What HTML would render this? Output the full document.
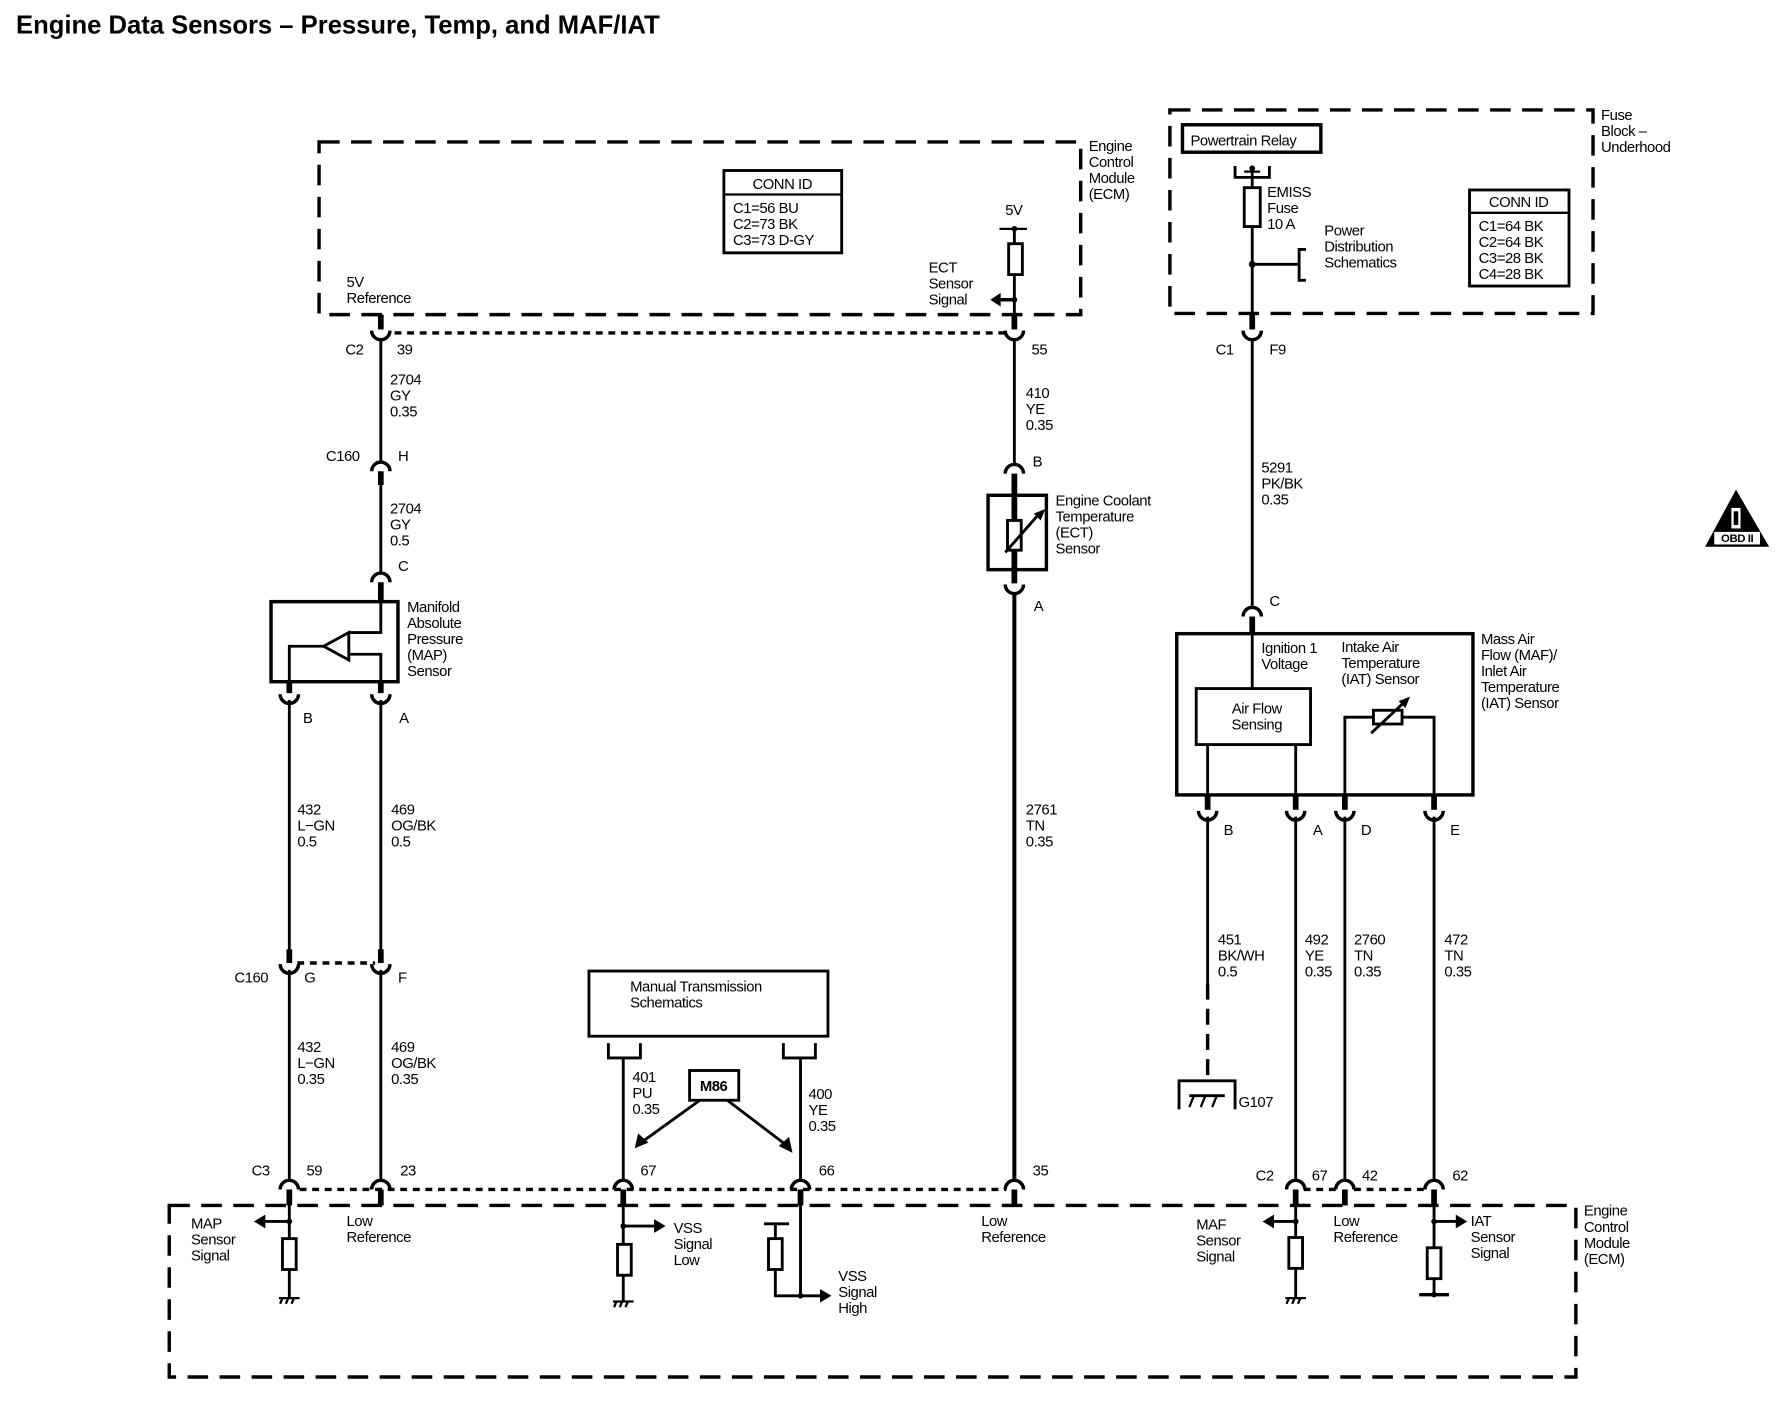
<!DOCTYPE html>
<html><head><meta charset="utf-8"><style>
html,body{margin:0;padding:0;background:#fff}
svg{display:block}
text{font-family:"Liberation Sans",sans-serif;font-size:13px;fill:#000;letter-spacing:-0.4px}
.t{font-size:22.4px;font-weight:bold;letter-spacing:0px}
.b{font-weight:bold}
</style></head><body>
<svg width="1784" height="1408" viewBox="0 0 1560 1231" xmlns="http://www.w3.org/2000/svg">
<text class="t" x="14" y="29">Engine Data Sensors – Pressure, Temp, and MAF/IAT</text>

<g fill="none" stroke="#000">
<g stroke-width="3" stroke-dasharray="18,10">
<rect x="279" y="124" width="666" height="151"/>
<rect x="1023" y="96" width="370" height="178"/>
<rect x="148" y="1054" width="1230" height="150"/>
</g>
<g stroke-width="3" stroke-dasharray="6,5">
<line x1="345" y1="291" x2="880" y2="291"/>
<line x1="260" y1="842" x2="328" y2="842"/>
<line x1="262" y1="1040" x2="880" y2="1040"/>
<line x1="1140" y1="1040" x2="1170" y2="1040"/>
<line x1="1184" y1="1040" x2="1248" y2="1040"/>
</g>

<rect x="633" y="149" width="103" height="72" stroke-width="2.5"/>
<line x1="633" y1="170" x2="736" y2="170" stroke-width="2"/>
<rect x="1285" y="166" width="87" height="84" stroke-width="2.5"/>
<line x1="1285" y1="186" x2="1372" y2="186" stroke-width="2"/>

<g stroke-width="2.5">
<line x1="333" y1="296" x2="333" y2="405"/>
<line x1="333" y1="424" x2="333" y2="500"/>
<line x1="253" y1="612" x2="253" y2="832"/>
<line x1="333" y1="612" x2="333" y2="832"/>
<line x1="253" y1="848" x2="253" y2="1032"/>
<line x1="333" y1="848" x2="333" y2="1032"/>
<line x1="887" y1="296" x2="887" y2="405"/>
<line x1="545" y1="925" x2="545" y2="1032"/>
<line x1="700" y1="925" x2="700" y2="1032"/>
<line x1="1095" y1="296" x2="1095" y2="530"/>
<line x1="1056" y1="714" x2="1056" y2="860"/>
<line x1="1133" y1="714" x2="1133" y2="1032"/>
<line x1="1176" y1="714" x2="1176" y2="1032"/>
<line x1="1254" y1="714" x2="1254" y2="1032"/>
</g>
<line x1="887" y1="518" x2="887" y2="1032" stroke-width="3.5"/>
<line x1="1056" y1="860" x2="1056" y2="945" stroke-width="3" stroke-dasharray="14,8"/>

<g stroke-width="5">
<line x1="333" y1="275" x2="333" y2="288"/>
<line x1="887" y1="275" x2="887" y2="288"/>
<line x1="1095" y1="274" x2="1095" y2="288"/>
<line x1="333" y1="412" x2="333" y2="424"/>
<line x1="333" y1="509" x2="333" y2="526"/>
<line x1="253" y1="596" x2="253" y2="606"/>
<line x1="333" y1="596" x2="333" y2="606"/>
<line x1="253" y1="830" x2="253" y2="842"/>
<line x1="333" y1="830" x2="333" y2="842"/>
<line x1="887" y1="414" x2="887" y2="510"/>
<line x1="1095" y1="539" x2="1095" y2="554"/>
<line x1="1056" y1="696" x2="1056" y2="708"/>
<line x1="1133" y1="696" x2="1133" y2="708"/>
<line x1="1176" y1="696" x2="1176" y2="708"/>
<line x1="1254" y1="696" x2="1254" y2="708"/>
<line x1="253" y1="1040" x2="253" y2="1054"/>
<line x1="333" y1="1040" x2="333" y2="1054"/>
<line x1="545" y1="1040" x2="545" y2="1054"/>
<line x1="700" y1="1040" x2="700" y2="1054"/>
<line x1="887" y1="1040" x2="887" y2="1054"/>
<line x1="1133" y1="1040" x2="1133" y2="1054"/>
<line x1="1176" y1="1040" x2="1176" y2="1054"/>
<line x1="1254" y1="1040" x2="1254" y2="1054"/>
</g>

<g stroke-width="3">
<path d="M325,289 A8,8 0 0 0 341,289"/>
<path d="M879,289 A8,8 0 0 0 895,289"/>
<path d="M1087,289 A8,8 0 0 0 1103,289"/>
<path d="M245,607 A8,8 0 0 0 261,607"/>
<path d="M325,607 A8,8 0 0 0 341,607"/>
<path d="M245,843 A8,8 0 0 0 261,843"/>
<path d="M325,843 A8,8 0 0 0 341,843"/>
<path d="M879,511 A8,8 0 0 0 895,511"/>
<path d="M1048,709 A8,8 0 0 0 1064,709"/>
<path d="M1125,709 A8,8 0 0 0 1141,709"/>
<path d="M1168,709 A8,8 0 0 0 1184,709"/>
<path d="M1246,709 A8,8 0 0 0 1262,709"/>
<path d="M325,412 A8,8 0 0 1 341,412"/>
<path d="M325,509 A8,8 0 0 1 341,509"/>
<path d="M879,414 A8,8 0 0 1 895,414"/>
<path d="M1087,539 A8,8 0 0 1 1103,539"/>
<path d="M245,1040 A8,8 0 0 1 261,1040"/>
<path d="M325,1040 A8,8 0 0 1 341,1040"/>
<path d="M537,1040 A8,8 0 0 1 553,1040"/>
<path d="M692,1040 A8,8 0 0 1 708,1040"/>
<path d="M879,1040 A8,8 0 0 1 895,1040"/>
<path d="M1125,1040 A8,8 0 0 1 1141,1040"/>
<path d="M1168,1040 A8,8 0 0 1 1184,1040"/>
<path d="M1246,1040 A8,8 0 0 1 1262,1040"/>
</g>

<rect x="237" y="526" width="111" height="70" stroke-width="3"/>
<polyline points="333,526 333,553 305,553" stroke-width="2.5"/>
<polygon points="283,565 305,553 305,577" stroke-width="2.5"/>
<polyline points="283,565 253,565 253,596" stroke-width="2.5"/>
<polyline points="305,572 333,572 333,596" stroke-width="2.5"/>

<line x1="874" y1="200" x2="898" y2="200" stroke-width="2"/>
<line x1="887" y1="200" x2="887" y2="275" stroke-width="2.5"/>
<rect x="882" y="213" width="12" height="27" fill="#fff" stroke-width="2.5"/>
<line x1="887" y1="262" x2="872" y2="262" stroke-width="3"/>
<rect x="864" y="433" width="51" height="65" stroke-width="3"/>
<rect x="881" y="455" width="12" height="26" fill="#fff" stroke-width="2.5"/>
<line x1="879" y1="483" x2="908" y2="450" stroke-width="2.5"/>

<rect x="1034" y="109" width="121" height="24" stroke-width="3"/>
<polyline points="1080,145 1080,155 1110,155 1110,145" stroke-width="2.5"/>
<line x1="1088" y1="150" x2="1102" y2="150" stroke-width="2"/>
<line x1="1095" y1="147" x2="1095" y2="164" stroke-width="2.5"/>
<rect x="1088" y="164" width="14" height="34" stroke-width="2.5"/>
<line x1="1095" y1="198" x2="1095" y2="274" stroke-width="2.5"/>
<line x1="1095" y1="231" x2="1136" y2="231" stroke-width="2.5"/>
<polyline points="1142,218 1136,218 1136,245 1142,245" stroke-width="2.5"/>

<rect x="1029" y="554" width="259" height="141" stroke-width="3"/>
<line x1="1095" y1="554" x2="1095" y2="602" stroke-width="2.5"/>
<rect x="1046" y="602" width="100" height="49" stroke-width="2.5"/>
<line x1="1056" y1="651" x2="1056" y2="696" stroke-width="2.5"/>
<line x1="1133" y1="651" x2="1133" y2="696" stroke-width="2.5"/>
<polyline points="1176,696 1176,627 1254,627 1254,696" stroke-width="2.5"/>
<rect x="1201" y="621" width="25" height="12" fill="#fff" stroke-width="2.5"/>
<line x1="1199" y1="641" x2="1230" y2="612" stroke-width="2.5"/>

<polyline points="1031,970 1031,945 1080,945 1080,970" stroke-width="2.5"/>
<line x1="1040" y1="958" x2="1071" y2="958" stroke-width="2.5"/>
<line x1="1044" y1="958" x2="1040" y2="968" stroke-width="2"/>
<line x1="1054" y1="958" x2="1050" y2="968" stroke-width="2"/>
<line x1="1064" y1="958" x2="1060" y2="968" stroke-width="2"/>

<rect x="515" y="849" width="209" height="57" stroke-width="2.5"/>
<polyline points="532,912 532,925 560,925 560,912" stroke-width="2.5"/>
<polyline points="685,912 685,925 713,925 713,912" stroke-width="2.5"/>
<rect x="603" y="936" width="43" height="26" stroke-width="2.5"/>
<line x1="612" y1="962" x2="562" y2="998" stroke-width="2.5"/>
<line x1="636" y1="962" x2="686" y2="1000" stroke-width="2.5"/>

<g stroke-width="2.5">
<line x1="253" y1="1054" x2="253" y2="1135"/>
<line x1="253" y1="1068" x2="230" y2="1068"/>
<line x1="545" y1="1054" x2="545" y2="1138"/>
<line x1="545" y1="1072" x2="572" y2="1072"/>
<line x1="700" y1="1054" x2="700" y2="1133"/>
<polyline points="678,1070 678,1133 718,1133"/>
<line x1="668" y1="1070" x2="690" y2="1070"/>
<line x1="1133" y1="1054" x2="1133" y2="1135"/>
<line x1="1133" y1="1068" x2="1112" y2="1068"/>
<line x1="1254" y1="1054" x2="1254" y2="1132"/>
<line x1="1254" y1="1068" x2="1274" y2="1068"/>
<line x1="1241" y1="1132" x2="1267" y2="1132" stroke-width="3"/>
</g>
<g fill="#fff" stroke-width="2.5">
<rect x="247" y="1083" width="12" height="27"/>
<rect x="540" y="1088" width="12" height="27"/>
<rect x="672" y="1083" width="12" height="27"/>
<rect x="1127" y="1082" width="12" height="27"/>
<rect x="1248" y="1091" width="12" height="27"/>
</g>
<g stroke-width="2">
<line x1="244" y1="1135" x2="262" y2="1135"/><line x1="247" y1="1135" x2="245" y2="1140"/><line x1="252" y1="1135" x2="250" y2="1140"/><line x1="257" y1="1135" x2="255" y2="1140"/>
<line x1="536" y1="1138" x2="554" y2="1138"/><line x1="539" y1="1138" x2="537" y2="1143"/><line x1="544" y1="1138" x2="542" y2="1143"/><line x1="549" y1="1138" x2="547" y2="1143"/>
<line x1="1124" y1="1135" x2="1142" y2="1135"/><line x1="1127" y1="1135" x2="1125" y2="1140"/><line x1="1132" y1="1135" x2="1130" y2="1140"/><line x1="1137" y1="1135" x2="1135" y2="1140"/>
</g>
</g>

<g fill="#000">
<polygon points="866,262 875,256 875,268"/>
<polygon points="222,1068 232,1062 232,1074"/>
<polygon points="582,1072 572,1066 572,1078"/>
<polygon points="727,1133 717,1127 717,1139"/>
<polygon points="1104,1068 1114,1062 1114,1074"/>
<polygon points="1283,1068 1273,1062 1273,1074"/>
<polygon points="555,1004 558,991 567,999"/>
<polygon points="693,1008 681,1002 690,994"/>
<polygon points="914,445 904,449 910,455"/>
<polygon points="1233,609 1223,613 1229,619"/>
<circle cx="887" cy="200" r="2.5"/><circle cx="887" cy="262" r="2.5"/>
<circle cx="1095" cy="231" r="3"/><circle cx="1095" cy="147" r="2.5"/>
<circle cx="253" cy="1068" r="2.5"/><circle cx="545" cy="1072" r="2.5"/>
<circle cx="700" cy="1133" r="2.5"/><circle cx="1133" cy="1068" r="2.5"/>
<circle cx="1254" cy="1068" r="2.5"/><circle cx="1254" cy="1132" r="2.5"/>
<polygon points="1518,428 1491,478 1547,478"/>
</g>
<rect x="1514" y="444" width="8" height="18" fill="#fff"/>
<rect x="1516" y="447" width="4" height="12" fill="#000"/>
<rect x="1499" y="465" width="40" height="11" fill="#fff"/>
<text x="1519" y="474" text-anchor="middle" style="font-size:10px;font-weight:bold">OBD II</text>

<g>
<text x="952" y="132">Engine</text><text x="952" y="146">Control</text><text x="952" y="160">Module</text><text x="952" y="174">(ECM)</text>
<text x="684" y="165" text-anchor="middle">CONN ID</text>
<text x="641" y="186">C1=56 BU</text><text x="641" y="200">C2=73 BK</text><text x="641" y="214">C3=73 D-GY</text>
<text x="303" y="251">5V</text><text x="303" y="265">Reference</text>
<text x="879" y="188">5V</text>
<text x="812" y="238">ECT</text><text x="812" y="252">Sensor</text><text x="812" y="266">Signal</text>
<text x="302" y="310">C2</text><text x="347" y="310">39</text>
<text x="341" y="336">2704</text><text x="341" y="350">GY</text><text x="341" y="364">0.35</text>
<text x="285" y="403">C160</text><text x="348" y="403">H</text>
<text x="341" y="449">2704</text><text x="341" y="463">GY</text><text x="341" y="477">0.5</text>
<text x="348" y="499">C</text>
<text x="356" y="535">Manifold</text><text x="356" y="549">Absolute</text><text x="356" y="563">Pressure</text><text x="356" y="577">(MAP)</text><text x="356" y="591">Sensor</text>
<text x="265" y="632">B</text><text x="349" y="632">A</text>
<text x="260" y="712">432</text><text x="260" y="726">L−GN</text><text x="260" y="740">0.5</text>
<text x="342" y="712">469</text><text x="342" y="726">OG/BK</text><text x="342" y="740">0.5</text>
<text x="205" y="859">C160</text><text x="266" y="859">G</text><text x="348" y="859">F</text>
<text x="260" y="920">432</text><text x="260" y="934">L−GN</text><text x="260" y="948">0.35</text>
<text x="342" y="920">469</text><text x="342" y="934">OG/BK</text><text x="342" y="948">0.35</text>
<text x="220" y="1028">C3</text><text x="268" y="1028">59</text><text x="350" y="1028">23</text>
<text x="167" y="1074">MAP</text><text x="167" y="1088">Sensor</text><text x="167" y="1102">Signal</text>
<text x="303" y="1072">Low</text><text x="303" y="1086">Reference</text>
<text x="551" y="867">Manual Transmission</text><text x="551" y="881">Schematics</text>
<text x="624" y="954" text-anchor="middle" class="b">M86</text>
<text x="553" y="946">401</text><text x="553" y="960">PU</text><text x="553" y="974">0.35</text>
<text x="707" y="961">400</text><text x="707" y="975">YE</text><text x="707" y="989">0.35</text>
<text x="560" y="1028">67</text><text x="716" y="1028">66</text>
<text x="589" y="1078">VSS</text><text x="589" y="1092">Signal</text><text x="589" y="1106">Low</text>
<text x="733" y="1120">VSS</text><text x="733" y="1134">Signal</text><text x="733" y="1148">High</text>
<text x="902" y="310">55</text>
<text x="897" y="348">410</text><text x="897" y="362">YE</text><text x="897" y="376">0.35</text>
<text x="903" y="408">B</text>
<text x="923" y="442">Engine Coolant</text><text x="923" y="456">Temperature</text><text x="923" y="470">(ECT)</text><text x="923" y="484">Sensor</text>
<text x="904" y="534">A</text>
<text x="897" y="712">2761</text><text x="897" y="726">TN</text><text x="897" y="740">0.35</text>
<text x="903" y="1028">35</text>
<text x="858" y="1072">Low</text><text x="858" y="1086">Reference</text>
<text x="1400" y="105">Fuse</text><text x="1400" y="119">Block –</text><text x="1400" y="133">Underhood</text>
<text x="1041" y="127">Powertrain Relay</text>
<text x="1108" y="172">EMISS</text><text x="1108" y="186">Fuse</text><text x="1108" y="200">10 A</text>
<text x="1158" y="206">Power</text><text x="1158" y="220">Distribution</text><text x="1158" y="234">Schematics</text>
<text x="1328" y="181" text-anchor="middle">CONN ID</text>
<text x="1293" y="202">C1=64 BK</text><text x="1293" y="216">C2=64 BK</text><text x="1293" y="230">C3=28 BK</text><text x="1293" y="244">C4=28 BK</text>
<text x="1063" y="310">C1</text><text x="1110" y="310">F9</text>
<text x="1103" y="413">5291</text><text x="1103" y="427">PK/BK</text><text x="1103" y="441">0.35</text>
<text x="1110" y="530">C</text>
<text x="1295" y="563">Mass Air</text><text x="1295" y="577">Flow (MAF)/</text><text x="1295" y="591">Inlet Air</text><text x="1295" y="605">Temperature</text><text x="1295" y="619">(IAT) Sensor</text>
<text x="1103" y="571">Ignition 1</text><text x="1103" y="585">Voltage</text>
<text x="1173" y="570">Intake Air</text><text x="1173" y="584">Temperature</text><text x="1173" y="598">(IAT) Sensor</text>
<text x="1099" y="624" text-anchor="middle">Air Flow</text><text x="1099" y="638" text-anchor="middle">Sensing</text>
<text x="1070" y="730">B</text><text x="1148" y="730">A</text><text x="1190" y="730">D</text><text x="1268" y="730">E</text>
<text x="1065" y="826">451</text><text x="1065" y="840">BK/WH</text><text x="1065" y="854">0.5</text>
<text x="1141" y="826">492</text><text x="1141" y="840">YE</text><text x="1141" y="854">0.35</text>
<text x="1184" y="826">2760</text><text x="1184" y="840">TN</text><text x="1184" y="854">0.35</text>
<text x="1263" y="826">472</text><text x="1263" y="840">TN</text><text x="1263" y="854">0.35</text>
<text x="1083" y="968">G107</text>
<text x="1098" y="1032">C2</text><text x="1147" y="1032">67</text><text x="1191" y="1032">42</text><text x="1270" y="1032">62</text>
<text x="1046" y="1075">MAF</text><text x="1046" y="1089">Sensor</text><text x="1046" y="1103">Signal</text>
<text x="1166" y="1072">Low</text><text x="1166" y="1086">Reference</text>
<text x="1286" y="1072">IAT</text><text x="1286" y="1086">Sensor</text><text x="1286" y="1100">Signal</text>
<text x="1385" y="1063">Engine</text><text x="1385" y="1077">Control</text><text x="1385" y="1091">Module</text><text x="1385" y="1105">(ECM)</text>
</g>
</svg>
</body></html>
